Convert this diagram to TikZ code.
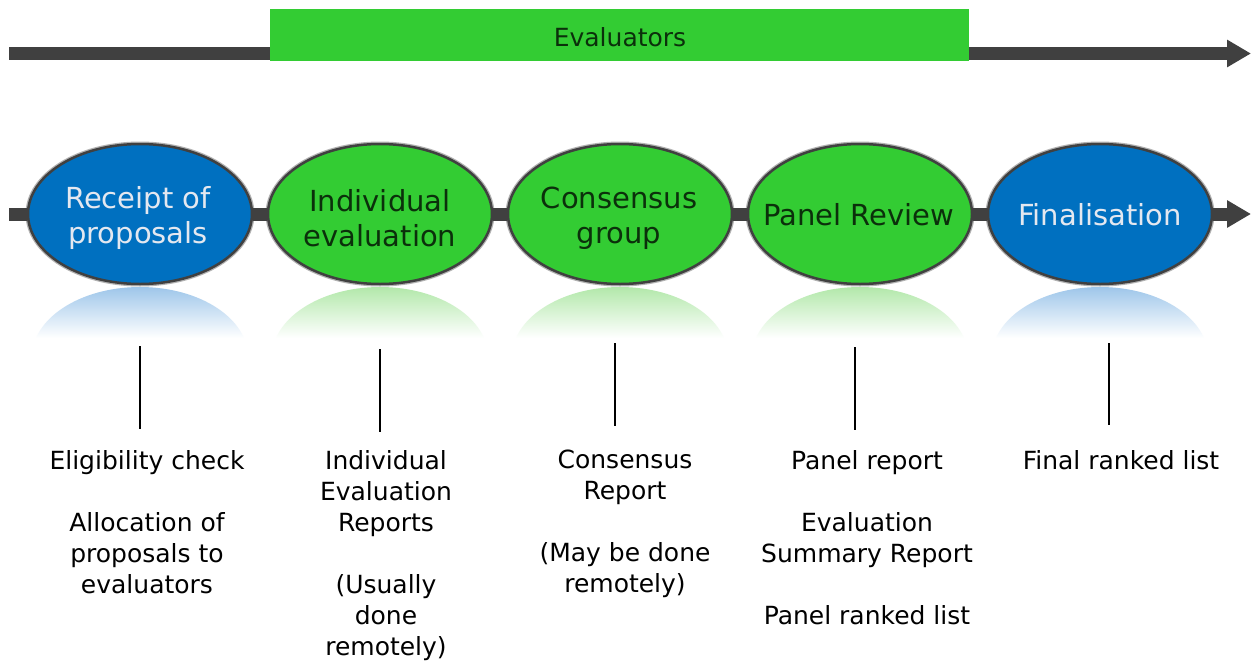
\documentclass[tikz,border=0pt]{standalone}
\usepackage{fontspec}
\setmainfont{DejaVu Sans}
\usetikzlibrary{shapes.geometric,arrows.meta}
\definecolor{stepblue}{HTML}{0070C0}
\definecolor{stepgreen}{HTML}{33CC33}
\definecolor{bargray}{HTML}{404040}
\definecolor{darkgreentext}{HTML}{0B300B}
\definecolor{lighttext}{HTML}{E4E8F0}
\definecolor{reflblue}{HTML}{9EC6EA}
\definecolor{reflgreen}{HTML}{B2E8AA}
\begin{document}
\begin{tikzpicture}[x=1pt,y=-1pt,
 bar/.style={draw=bargray, line width=13pt},
 bararrow/.style={bar, -{Triangle[length=24pt,width=26pt]}},
 stage/.style={ellipse, minimum width=224pt, minimum height=140pt, inner sep=0pt,
   draw=bargray, line width=2.5pt, preaction={draw=black!30, line width=5pt}},
 bluestage/.style={stage, fill=stepblue},
 greenstage/.style={stage, fill=stepgreen},
 stagetext/.style={align=center, inner sep=0pt, font=\fontsize{29}{35}\selectfont},
 bluetext/.style={stagetext, text=lighttext},
 greentext/.style={stagetext, text=darkgreentext},
 note/.style={anchor=north, align=center, inner sep=0pt, font=\fontsize{25}{31}\selectfont, text=black},
 vline/.style={draw=black, line width=2pt}]
\useasboundingbox (0,0) rectangle (1253,664);
\fill[white] (0,0) rectangle (1253,664);

% top timeline
\coordinate (tstart) at (9,53.5);
\coordinate (tend) at (1251,53.5);
\node[fill=stepgreen, minimum width=699pt, minimum height=52pt, inner sep=0pt] (evalbox) at (619.5,35) {};
\node[inner sep=0pt, font=\fontsize{25}{31}\selectfont, text=darkgreentext] (evaltext) at (620,37) {Evaluators};
\draw[bar] (tstart) -- (tstart -| evalbox.west);
\draw[bararrow] (tstart -| evalbox.east) -- (tend);

% reflections
\foreach \cx/\col in {140/reflblue, 380/reflgreen, 620/reflgreen, 860/reflgreen, 1100/reflblue}{
  \begin{scope}
    \clip (\cx,357) ellipse (108 and 70);
    \shade[top color=\col, bottom color=white] (\cx-115,287) rectangle (\cx+115,338);
  \end{scope}
}

% stages
\coordinate (mstart) at (9,214);
\coordinate (mend) at (1251,214);
\node[bluestage] (e1) at (140,214) {};
\node[greenstage] (e2) at (380,214) {};
\node[greenstage] (e3) at (620,214) {};
\node[greenstage] (e4) at (860,214) {};
\node[bluestage] (e5) at (1100,214) {};
\node[bluetext] (t1) at (138,218) {Receipt of\\proposals};
\node[greentext] (t2) at (380,218) {Individual\\evaluation};
\node[greentext] (t3) at (619,218) {Consensus\\group};
\node[greentext] (t4) at (859,215) {Panel Review};
\node[bluetext] (t5) at (1100,215) {Finalisation};
\draw[bar] (mstart) -- (e1.west);
\draw[bar] (e1.east) -- (e2.west);
\draw[bar] (e2.east) -- (e3.west);
\draw[bar] (e3.east) -- (e4.west);
\draw[bar] (e4.east) -- (e5.west);
\draw[bararrow] (e5.east) -- (mend);

% vertical ticks
\coordinate (v1a) at (140,346); \coordinate (v1b) at (140,429);
\coordinate (v2a) at (380,349); \coordinate (v2b) at (380,432);
\coordinate (v3a) at (615,343); \coordinate (v3b) at (615,426);
\coordinate (v4a) at (855,347); \coordinate (v4b) at (855,430);
\coordinate (v5a) at (1109,343); \coordinate (v5b) at (1109,425);
\draw[vline] (v1a) -- (v1b);
\draw[vline] (v2a) -- (v2b);
\draw[vline] (v3a) -- (v3b);
\draw[vline] (v4a) -- (v4b);
\draw[vline] (v5a) -- (v5b);

% notes
\node[note] (n1) at (147,450) {Eligibility check\\[31pt]Allocation of\\proposals to\\evaluators};
\node[note] (n2) at (386,450) {Individual\\Evaluation\\Reports\\[31pt](Usually\\done\\remotely)};
\node[note] (n3) at (625,450) {Consensus\\Report\\[31pt](May be done\\remotely)};
\node[note] (n4) at (867,450) {Panel report\\[31pt]Evaluation\\Summary Report\\[31pt]Panel ranked list};
\node[note] (n5) at (1121,450) {Final ranked list};
\end{tikzpicture}
\end{document}
